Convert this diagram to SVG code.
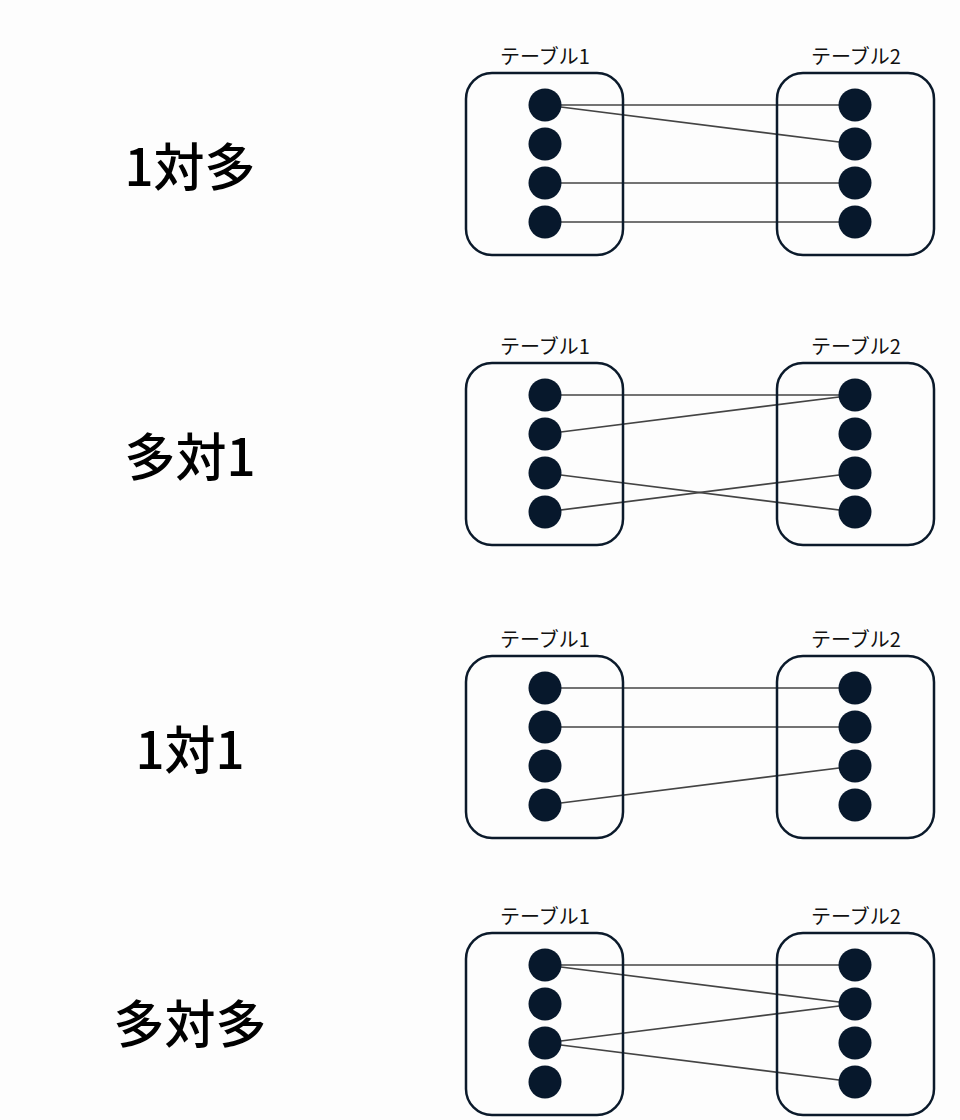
<svg xmlns="http://www.w3.org/2000/svg" width="960" height="1120" viewBox="0 0 960 1120">
<defs>
<style>
.bg{fill:#fdfdfd}
.box{fill:none;stroke:#0b1a2b;stroke-width:2.5}
.dot{fill:#07182c}
.tl{font-family:"Noto Sans CJK JP","Liberation Sans",sans-serif;font-size:20px;fill:#111;text-anchor:middle}
.big{font-family:"Noto Sans CJK JP","Liberation Sans",sans-serif;font-size:51px;font-weight:500;fill:#000;text-anchor:middle}
.ln{stroke:#444;stroke-width:1.7;fill:none}
</style>
<g id="t">
<rect class="box" x="466" y="73" width="157" height="182" rx="26"/>
<rect class="box" x="777" y="73" width="157" height="182" rx="26"/>
<text class="tl" x="545" y="64">テーブル1</text>
<text class="tl" x="856" y="64">テーブル2</text>
</g>
<g id="d">
<circle class="dot" cx="545" cy="105" r="16.5"/>
<circle class="dot" cx="545" cy="144" r="16.5"/>
<circle class="dot" cx="545" cy="183" r="16.5"/>
<circle class="dot" cx="545" cy="222" r="16.5"/>
<circle class="dot" cx="855" cy="105" r="16.5"/>
<circle class="dot" cx="855" cy="144" r="16.5"/>
<circle class="dot" cx="855" cy="183" r="16.5"/>
<circle class="dot" cx="855" cy="222" r="16.5"/>
</g>
</defs>
<rect class="bg" x="0" y="0" width="960" height="1120"/>

<g id="connectors">
<g transform="translate(0,0)">
<line class="ln" x1="545" y1="105" x2="855" y2="105"/>
<line class="ln" x1="545" y1="105" x2="855" y2="144"/>
<line class="ln" x1="545" y1="183" x2="855" y2="183"/>
<line class="ln" x1="545" y1="222" x2="855" y2="222"/>
</g>
<g transform="translate(0,290)">
<line class="ln" x1="545" y1="105" x2="855" y2="105"/>
<line class="ln" x1="545" y1="144" x2="855" y2="105"/>
<line class="ln" x1="545" y1="183" x2="855" y2="222"/>
<line class="ln" x1="545" y1="222" x2="855" y2="183"/>
</g>
<g transform="translate(0,583)">
<line class="ln" x1="545" y1="105" x2="855" y2="105"/>
<line class="ln" x1="545" y1="144" x2="855" y2="144"/>
<line class="ln" x1="545" y1="222" x2="855" y2="183"/>
</g>
<g transform="translate(0,860)">
<line class="ln" x1="545" y1="105" x2="855" y2="105"/>
<line class="ln" x1="545" y1="105" x2="855" y2="144"/>
<line class="ln" x1="545" y1="183" x2="855" y2="144"/>
<line class="ln" x1="545" y1="183" x2="855" y2="222"/>
</g>
</g>

<g id="panel1">
<text class="big" x="190" y="186">1対多</text>
<use href="#t"/><use href="#d"/>
</g>
<g id="panel2" transform="translate(0,290)">
<text class="big" x="190" y="186">多対1</text>
<use href="#t"/><use href="#d"/>
</g>
<g id="panel3" transform="translate(0,583)">
<text class="big" x="190" y="186">1対1</text>
<use href="#t"/><use href="#d"/>
</g>
<g id="panel4" transform="translate(0,860)">
<text class="big" x="190" y="183">多対多</text>
<use href="#t"/><use href="#d"/>
</g>
</svg>
